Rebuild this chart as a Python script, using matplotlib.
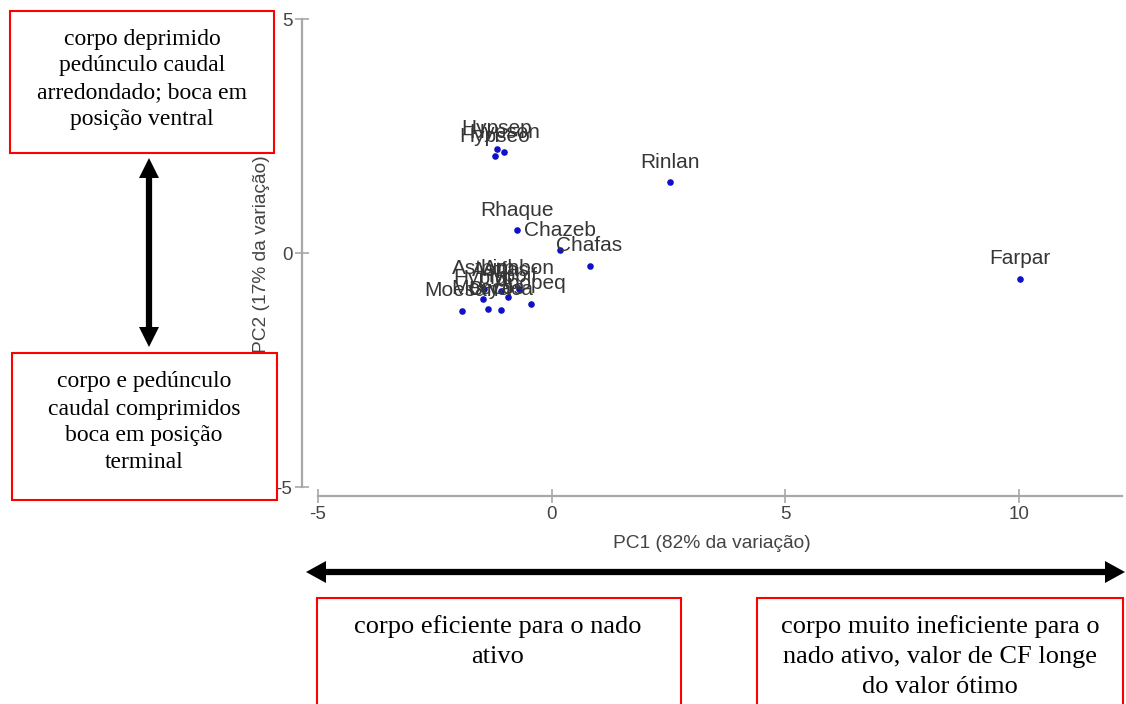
import matplotlib.pyplot as plt
from matplotlib.patches import Rectangle, Polygon
from matplotlib.lines import Line2D

# PCA scores (PC1, PC2) for each species
species = ['Hypseo', 'Hypsep', 'Hypson', 'Rinlan', 'Farpar', 'Rhaque', 'Chazeb', 'Chafas',
           'Astbim', 'Astfas', 'Aphbon', 'Hyplut', 'Hypbif', 'Apopeq',
           'Moesan', 'Moecos', 'Bryaca']
pc1 = [-1.21, -1.17, -1.01, 2.54, 10.02, -0.75, 0.17, 0.81,
       -1.45, -1.08, -0.70, -1.47, -0.93, -0.44,
       -1.92, -1.36, -1.08]
pc2 = [2.07, 2.23, 2.16, 1.52, -0.55, 0.49, 0.06, -0.27,
       -0.76, -0.80, -0.76, -0.97, -0.93, -1.08,
       -1.23, -1.19, -1.21]

xticks = [-5, 0, 5, 10]
yticks = [-5, 0, 5]
xlabel = 'PC1 (82% da variação)'
ylabel = 'PC2 (17% da variação)'

box_top = ['corpo deprimido', 'pedúnculo caudal', 'arredondado; boca em', 'posição ventral']
box_bottom = ['corpo e pedúnculo', 'caudal comprimidos', 'boca em posição', 'terminal']
box_left = ['corpo eficiente para o nado', 'ativo']
box_right = ['corpo muito ineficiente para o', 'nado ativo, valor de CF longe', 'do valor ótimo']

W, H = 1126, 704
plt.rcParams['font.family'] = ['Liberation Sans', 'DejaVu Sans']
plt.rcParams['axes.unicode_minus'] = False

fig = plt.figure(figsize=(W / 100, H / 100), dpi=100)


def fx(px):
    return px / W


def fy(py):
    return 1 - py / H


# scatter panel
ax = fig.add_axes([fx(302), fy(496), fx(1122) - fx(302), fy(12) - fy(496)])
ax.set_xlim(-5.34, 12.2)
ax.set_ylim(-5.19, 5.16)
ax.scatter(pc1, pc2, s=14, color='#1010c8', zorder=3)
for name, x, y in zip(species, pc1, pc2):
    ax.annotate(name, (x, y), xytext=(0, 14.5), textcoords='offset points',
                ha='center', va='center', fontsize=15, color='#363636')

for s in ['top', 'right']:
    ax.spines[s].set_visible(False)
ax.spines['left'].set_bounds(-5, 5)
ax.spines['bottom'].set_bounds(-5, 12.2)
for s in ['left', 'bottom']:
    ax.spines[s].set_color('#a8a8a8')
    ax.spines[s].set_linewidth(1.6)
ax.set_xticks(xticks)
ax.set_yticks(yticks)
ax.tick_params(direction='inout', length=10, width=1.2, color='#a8a8a8',
               labelsize=13.5, labelcolor='#444444', pad=2)
ax.set_xlabel(xlabel, fontsize=13.8, color='#444444', labelpad=9)
ax.set_ylabel(ylabel, fontsize=13.8, color='#444444', labelpad=4)
ax.patch.set_alpha(0)

serif = ['Liberation Serif', 'DejaVu Serif']


def red_box(x0, y0, x1, y1):
    fig.patches.append(Rectangle((fx(x0), fy(y1)), fx(x1) - fx(x0), fy(y0) - fy(y1),
                                 transform=fig.transFigure, fill=False,
                                 edgecolor='#ff0000', linewidth=1.5))


def box_lines(lines, cx, y_first, step, size):
    for i, line in enumerate(lines):
        fig.text(fx(cx), fy(y_first + i * step), line, ha='center', va='center',
                 fontsize=size, family=serif, color='black')


red_box(10, 11, 274, 153)
box_lines(box_top, 142, 39, 27, 17)
red_box(12, 353, 277, 500)
box_lines(box_bottom, 144, 382, 27, 17)
red_box(317, 598, 681, 720)
box_lines(box_left, 498, 627, 30, 19)
red_box(757, 598, 1123, 720)
box_lines(box_right, 940, 627, 30, 19)


def double_arrow(p0, p1, head_len, half_w, lw):
    (x0, y0), (x1, y1) = p0, p1
    length = ((x1 - x0) ** 2 + (y1 - y0) ** 2) ** 0.5
    ux, uy = (x1 - x0) / length, (y1 - y0) / length
    nx, ny = -uy, ux
    fig.lines.append(Line2D([fx(x0 + ux * head_len * 0.8), fx(x1 - ux * head_len * 0.8)],
                            [fy(y0 + uy * head_len * 0.8), fy(y1 - uy * head_len * 0.8)],
                            transform=fig.transFigure, color='black', linewidth=lw,
                            solid_capstyle='butt'))
    for tx, ty, d in [(x0, y0, 1), (x1, y1, -1)]:
        bx, by = tx + d * ux * head_len, ty + d * uy * head_len
        pts = [(fx(tx), fy(ty)),
               (fx(bx + nx * half_w), fy(by + ny * half_w)),
               (fx(bx - nx * half_w), fy(by - ny * half_w))]
        fig.patches.append(Polygon(pts, closed=True, transform=fig.transFigure,
                                   facecolor='black', edgecolor='none'))


double_arrow((149, 158), (149, 347), 20, 10, 4.5)
double_arrow((306, 572), (1125, 572), 20, 11, 4.5)

fig.savefig('out.png', dpi=100)
